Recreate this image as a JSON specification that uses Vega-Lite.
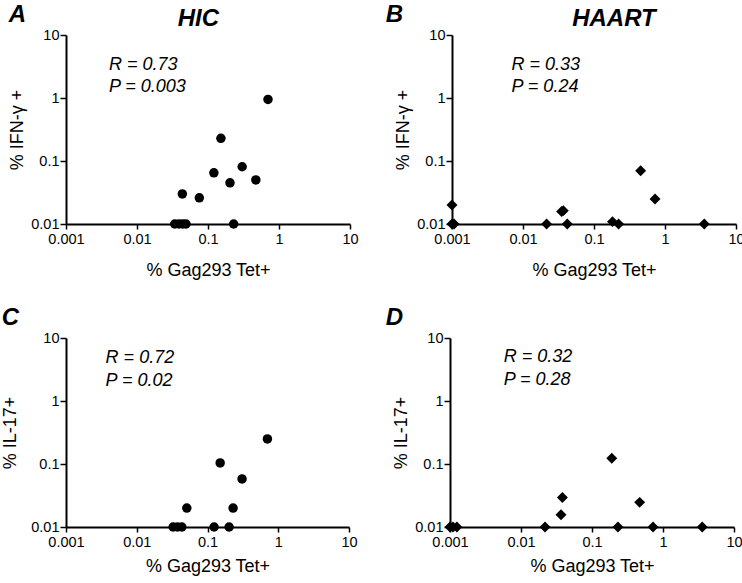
{
  "$schema": "https://vega.github.io/schema/vega-lite/v6.json",
  "background": "white",
  "padding": {"left": 1, "top": 3, "right": 0, "bottom": 0},
  "config": {
    "font": "Liberation Sans",
    "view": {"stroke": null},
    "axis": {
      "grid": false,
      "domainColor": "black",
      "domainWidth": 2,
      "tickColor": "black",
      "tickWidth": 1.5,
      "labelFont": "Liberation Sans",
      "labelFontSize": 14.5,
      "labelColor": "black",
      "labelFlush": false,
      "labelOverlap": false,
      "titleFont": "Liberation Sans",
      "titleFontSize": 18,
      "titleFontWeight": "normal",
      "titleColor": "black"
    },
    "axisX": {"tickSize": 5, "labelPadding": 3},
    "axisY": {"tickSize": 6, "labelPadding": 1, "titlePadding": 4},
    "title": {"font": "Liberation Sans", "fontSize": 24, "fontWeight": "bold", "fontStyle": "italic", "color": "black"},
    "text": {"font": "Liberation Sans", "fontSize": 18, "fontStyle": "italic", "align": "left", "baseline": "middle", "color": "black"}
  },
  "datasets": {
    "hic_ifn": [
      {"tet": 0.70, "cyt": 0.95},
      {"tet": 0.152, "cyt": 0.229},
      {"tet": 0.303, "cyt": 0.081},
      {"tet": 0.121, "cyt": 0.065},
      {"tet": 0.204, "cyt": 0.045},
      {"tet": 0.472, "cyt": 0.050},
      {"tet": 0.0435, "cyt": 0.030},
      {"tet": 0.0755, "cyt": 0.026},
      {"tet": 0.034, "cyt": 0.01},
      {"tet": 0.039, "cyt": 0.01},
      {"tet": 0.044, "cyt": 0.01},
      {"tet": 0.049, "cyt": 0.01},
      {"tet": 0.23, "cyt": 0.01}
    ],
    "haart_ifn": [
      {"tet": 0.001, "cyt": 0.02},
      {"tet": 0.001, "cyt": 0.01},
      {"tet": 0.00107, "cyt": 0.01},
      {"tet": 0.0215, "cyt": 0.01},
      {"tet": 0.035, "cyt": 0.0158},
      {"tet": 0.037, "cyt": 0.0163},
      {"tet": 0.042, "cyt": 0.01},
      {"tet": 0.182, "cyt": 0.0109},
      {"tet": 0.222, "cyt": 0.01},
      {"tet": 0.454, "cyt": 0.070},
      {"tet": 0.724, "cyt": 0.025},
      {"tet": 3.57, "cyt": 0.01}
    ],
    "hic_il17": [
      {"tet": 0.703, "cyt": 0.25},
      {"tet": 0.151, "cyt": 0.104},
      {"tet": 0.308, "cyt": 0.058},
      {"tet": 0.051, "cyt": 0.020},
      {"tet": 0.230, "cyt": 0.020},
      {"tet": 0.0327, "cyt": 0.01},
      {"tet": 0.0377, "cyt": 0.01},
      {"tet": 0.0434, "cyt": 0.01},
      {"tet": 0.124, "cyt": 0.01},
      {"tet": 0.202, "cyt": 0.01}
    ],
    "haart_il17": [
      {"tet": 0.19, "cyt": 0.123},
      {"tet": 0.0383, "cyt": 0.0295},
      {"tet": 0.0366, "cyt": 0.0156},
      {"tet": 0.469, "cyt": 0.0246},
      {"tet": 0.001, "cyt": 0.01},
      {"tet": 0.0011, "cyt": 0.01},
      {"tet": 0.00125, "cyt": 0.01},
      {"tet": 0.0218, "cyt": 0.01},
      {"tet": 0.232, "cyt": 0.01},
      {"tet": 0.724, "cyt": 0.01},
      {"tet": 3.57, "cyt": 0.01}
    ]
  },
  "spacing": 26,
  "vconcat": [
    {
      "spacing": 26,
      "hconcat": [
        {
          "title": {"text": "HIC", "anchor": "middle", "dy": 32, "dx": 15},
          "vconcat": [
            {
              "title": {"text": "A", "anchor": "start", "frame": "bounds", "offset": 0},
              "width": 284, "height": 189,
              "layer": [
                {
                  "data": {"name": "hic_ifn"},
                  "mark": {"type": "point", "shape": "circle", "filled": true, "color": "black", "opacity": 1, "size": 90},
                  "encoding": {
                    "x": {"field": "tet", "type": "quantitative", "scale": {"type": "log", "domain": [0.001, 10], "nice": false}, "axis": {"title": "% Gag293 Tet+", "titlePadding": 16, "values": [0.001, 0.01, 0.1, 1, 10], "format": "~g"}},
                    "y": {"field": "cyt", "type": "quantitative", "scale": {"type": "log", "domain": [0.01, 10], "nice": false}, "axis": {"title": "% IFN-γ +", "values": [0.01, 0.1, 1, 10], "format": "~g"}}
                  }
                },
                {"data": {"values": [{}]}, "mark": {"type": "text"}, "encoding": {"x": {"datum": 0.00402}, "y": {"datum": 3.34}, "text": {"value": "R = 0.73"}}},
                {"data": {"values": [{}]}, "mark": {"type": "text"}, "encoding": {"x": {"datum": 0.00402}, "y": {"datum": 1.5}, "text": {"value": "P = 0.003"}}}
              ]
            }
          ]
        },
        {
          "title": {"text": "HAART", "anchor": "middle", "dy": 32, "dx": 49},
          "vconcat": [
            {
              "title": {"text": "B", "anchor": "start", "frame": "bounds", "offset": 0, "dx": -9},
              "width": 284, "height": 189,
              "layer": [
                {
                  "data": {"name": "haart_ifn"},
                  "mark": {"type": "point", "shape": "diamond", "filled": true, "color": "black", "opacity": 1, "size": 120},
                  "encoding": {
                    "x": {"field": "tet", "type": "quantitative", "scale": {"type": "log", "domain": [0.001, 10], "nice": false}, "axis": {"title": "% Gag293 Tet+", "titlePadding": 16, "values": [0.001, 0.01, 0.1, 1, 10], "format": "~g"}},
                    "y": {"field": "cyt", "type": "quantitative", "scale": {"type": "log", "domain": [0.01, 10], "nice": false}, "axis": {"title": "% IFN-γ +", "values": [0.01, 0.1, 1, 10], "format": "~g"}}
                  }
                },
                {"data": {"values": [{}]}, "mark": {"type": "text"}, "encoding": {"x": {"datum": 0.00689}, "y": {"datum": 3.34}, "text": {"value": "R = 0.33"}}},
                {"data": {"values": [{}]}, "mark": {"type": "text"}, "encoding": {"x": {"datum": 0.00689}, "y": {"datum": 1.5}, "text": {"value": "P = 0.24"}}}
              ]
            }
          ]
        }
      ]
    },
    {
      "spacing": 27,
      "hconcat": [
        {
          "title": {"text": "C", "anchor": "start", "frame": "bounds", "offset": 0},
          "width": 283, "height": 189,
          "layer": [
            {
              "data": {"name": "hic_il17"},
              "mark": {"type": "point", "shape": "circle", "filled": true, "color": "black", "opacity": 1, "size": 90},
              "encoding": {
                "x": {"field": "tet", "type": "quantitative", "scale": {"type": "log", "domain": [0.001, 10], "nice": false}, "axis": {"title": "% Gag293 Tet+", "titlePadding": 9, "values": [0.001, 0.01, 0.1, 1, 10], "format": "~g"}},
                "y": {"field": "cyt", "type": "quantitative", "scale": {"type": "log", "domain": [0.01, 10], "nice": false}, "axis": {"title": "% IL-17+", "titlePadding": 11, "values": [0.01, 0.1, 1, 10], "format": "~g"}}
              }
            },
            {"data": {"values": [{}]}, "mark": {"type": "text"}, "encoding": {"x": {"datum": 0.00363}, "y": {"datum": 4.76}, "text": {"value": "R = 0.72"}}},
            {"data": {"values": [{}]}, "mark": {"type": "text"}, "encoding": {"x": {"datum": 0.00363}, "y": {"datum": 2.1}, "text": {"value": "P = 0.02"}}}
          ]
        },
        {
          "title": {"text": "D", "anchor": "start", "frame": "bounds", "offset": 0, "dx": -7},
          "width": 284, "height": 189,
          "layer": [
            {
              "data": {"name": "haart_il17"},
              "mark": {"type": "point", "shape": "diamond", "filled": true, "color": "black", "opacity": 1, "size": 120},
              "encoding": {
                "x": {"field": "tet", "type": "quantitative", "scale": {"type": "log", "domain": [0.001, 10], "nice": false}, "axis": {"title": "% Gag293 Tet+", "titlePadding": 9, "values": [0.001, 0.01, 0.1, 1, 10], "format": "~g"}},
                "y": {"field": "cyt", "type": "quantitative", "scale": {"type": "log", "domain": [0.01, 10], "nice": false}, "axis": {"title": "% IL-17+", "values": [0.01, 0.1, 1, 10], "format": "~g"}}
              }
            },
            {"data": {"values": [{}]}, "mark": {"type": "text"}, "encoding": {"x": {"datum": 0.0057}, "y": {"datum": 5.0}, "text": {"value": "R = 0.32"}}},
            {"data": {"values": [{}]}, "mark": {"type": "text"}, "encoding": {"x": {"datum": 0.0057}, "y": {"datum": 2.18}, "text": {"value": "P = 0.28"}}}
          ]
        }
      ]
    }
  ]
}
